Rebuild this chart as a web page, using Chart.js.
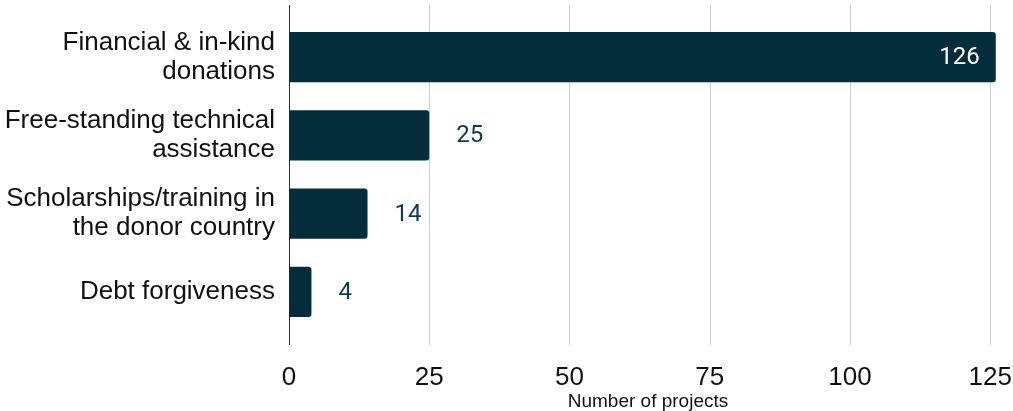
<!DOCTYPE html>
<html>
<head>
<meta charset="utf-8">
<script src="https://cdn.jsdelivr.net/npm/chart.js@4"></script>
<style>
  html, body { margin: 0; padding: 0; background: #fff; }
</style>
</head>
<body>
<canvas id="myChart" width="1013" height="411"></canvas>
<script>
// dados do gráfico
const categorias = [
    ['Financial & in-kind', 'donations'],
    ['Free-standing technical', 'assistance'],
    ['Scholarships/training in', 'the donor country'],
    'Debt forgiveness'
];
const projetos = [126, 25, 14, 4];
const ticksX = [0, 25, 50, 75, 100, 125];

const corBarra = '#032d3a';
const fonteArial = "'Liberation Sans', Arial, sans-serif";

// linhas de grade verticais (mais longas que a área do gráfico)
const gradePlugin = {
    id: 'grade',
    beforeDatasetsDraw(chart) {
        const { ctx, chartArea, scales } = chart;
        const y0 = chartArea.top - 13;
        const y1 = chartArea.bottom + 14;
        ctx.save();
        ticksX.forEach(v => {
            const x = Math.round(scales.x.getPixelForValue(v)) + 0.5;
            ctx.strokeStyle = v === 0 ? '#333333' : '#cccccc';
            ctx.lineWidth = 1;
            ctx.beginPath();
            ctx.moveTo(x, y0);
            ctx.lineTo(x, y1);
            ctx.stroke();
        });
        ctx.restore();
    }
};

// rótulos de valores nas barras
const rotulosPlugin = {
    id: 'rotulos',
    afterDatasetsDraw(chart) {
        const { ctx } = chart;
        const meta = chart.getDatasetMeta(0);
        ctx.save();
        ctx.font = '24px Roboto';
        ctx.textBaseline = 'middle';
        meta.data.forEach((bar, i) => {
            const v = projetos[i];
            if (v > 100) {
                ctx.fillStyle = '#ffffff';
                ctx.textAlign = 'right';
                ctx.fillText(String(v), bar.x - 16, bar.y + 1);
            } else {
                ctx.fillStyle = '#0f3a48';
                ctx.textAlign = 'left';
                ctx.fillText(String(v), bar.x + 27, bar.y + 1);
            }
        });
        ctx.restore();
    }
};

const ctx = document.getElementById('myChart').getContext('2d');
const myChart = new Chart(ctx, {
    type: 'bar',
    data: {
        labels: categorias,
        datasets: [{
            label: 'Number of projects',
            data: projetos,
            backgroundColor: corBarra,
            borderRadius: 3,
            borderSkipped: 'start',
            barPercentage: 0.64,
            categoryPercentage: 1
        }]
    },
    options: {
        indexAxis: 'y',
        responsive: false,
        animation: false,
        devicePixelRatio: 1,
        layout: {
            padding: { top: 18, right: 6, bottom: 0, left: 0 }
        },
        plugins: {
            legend: { display: false },
            tooltip: { enabled: false }
        },
        scales: {
            x: {
                min: 0,
                max: 128,
                afterBuildTicks: (scale) => {
                    scale.ticks = ticksX.map(v => ({ value: v }));
                },
                afterFit: (scale) => {
                    scale.height = 80;
                    scale.paddingLeft = 0;
                    scale.paddingRight = 0;
                },
                grid: { display: false, drawTicks: false },
                border: { display: false },
                ticks: {
                    color: '#111111',
                    padding: 31,
                    maxRotation: 0,
                    font: { family: fonteArial, size: 26 }
                },
                title: {
                    display: true,
                    text: 'Number of projects',
                    color: '#111111',
                    padding: { top: 0, bottom: 0 },
                    font: { family: fonteArial, size: 19, lineHeight: 1 }
                }
            },
            y: {
                afterFit: (scale) => {
                    scale.width = 289;
                    scale.paddingTop = 0;
                    scale.paddingBottom = 0;
                },
                grid: { display: false, drawTicks: false },
                border: { display: false },
                ticks: {
                    color: '#111111',
                    padding: 14,
                    font: { family: fonteArial, size: 26, lineHeight: 1.1 }
                }
            }
        }
    },
    plugins: [gradePlugin, rotulosPlugin]
});
</script>
</body>
</html>
